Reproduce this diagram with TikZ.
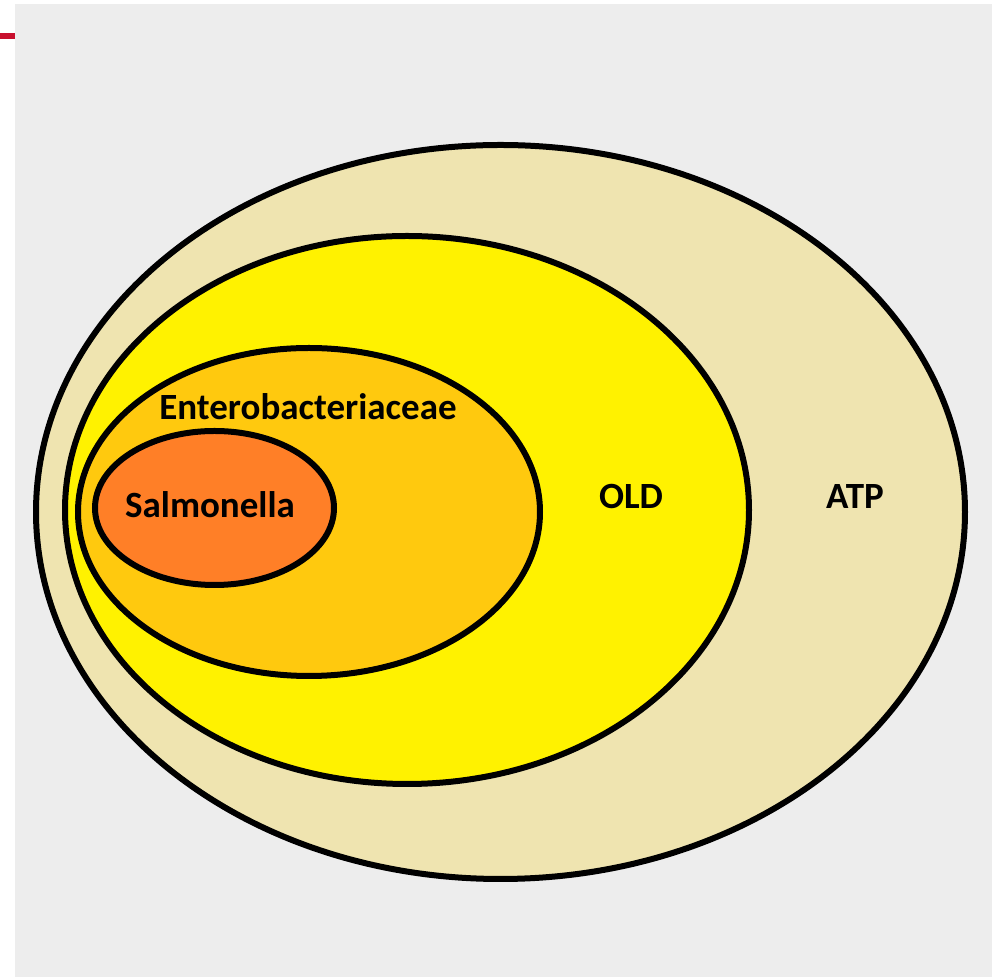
\documentclass[tikz,border=0pt]{standalone}
\usepackage{fontspec}
\setmainfont{Carlito}
\usetikzlibrary{shapes.geometric}
\definecolor{pagegray}{HTML}{EDEDED}
\definecolor{markred}{HTML}{C8102E}
\definecolor{atpfill}{HTML}{EFE4B0}
\definecolor{oldfill}{HTML}{FFF200}
\definecolor{entfill}{HTML}{FFC90E}
\definecolor{salfill}{HTML}{FF7F27}

\begin{document}
\begin{tikzpicture}[
	x=0.5pt, y=-0.5pt,
	set/.style={ellipse, draw=black, line width=3pt, inner sep=0pt},
	setlabel/.style={font=\bfseries\fontsize{18.5}{20}\selectfont, inner sep=0pt}]
\useasboundingbox (0,0) rectangle (1003,977);
\fill[white] (0,0) rectangle (1003,977);
\fill[pagegray] (15,4) rectangle (992,977);
\draw[markred, line width=3pt] (0,36) -- (15,36);
% nested sets
\node[set, fill=atpfill, minimum width=464.5pt, minimum height=367pt] (atp) at (500.5,512) {};
\node[set, fill=oldfill, minimum width=342pt, minimum height=274pt] (old) at (407,510) {};
\node[set, fill=entfill, minimum width=231pt, minimum height=164pt] (ent) at (309,512) {};
\node[set, fill=salfill, minimum width=119.5pt, minimum height=77pt] (sal) at (214.5,508) {};
% labels
\node[setlabel] (atplabel) at (855,497) {ATP};
\node[setlabel] (oldlabel) at (631,497) {OLD};
\node[setlabel] (entlabel) at (308,407) {Enterobacteriaceae};
\node[setlabel] (sallabel) at (210,505) {Salmonella};
\end{tikzpicture}
\end{document}
